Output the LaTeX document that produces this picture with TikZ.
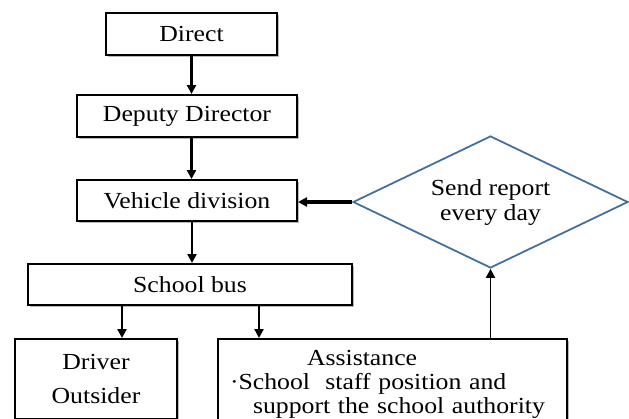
\documentclass[tikz,border=0pt]{standalone}
\usepackage{fontspec}
\setmainfont{Liberation Serif}[FakeStretch=1.12]
\usepackage{tikz}
\usetikzlibrary{arrows.meta,positioning,shapes.geometric,shadows}
\usepackage{xcolor}
\definecolor{reportblue}{HTML}{41719C}

\begin{document}
\begin{tikzpicture}[
x=1pt,y=-1pt,
font=\fontsize{23}{25}\selectfont,
box/.style={rectangle,draw,line width=2pt,fill=white,inner sep=0pt,minimum height=42pt,
  drop shadow={shadow xshift=2pt,shadow yshift=-2pt,opacity=0.45,fill=black!60}},
decide/.style={diamond,draw=reportblue,line width=1.8pt,align=center,inner sep=0pt,aspect=2.08},
arr/.style={-{Triangle[length=9pt,width=9pt]},line width=2.2pt}
]
\useasboundingbox (0,0) rectangle (629,418);
\node[box,minimum width=171pt] (direct) at (191.5,33.5) {Direct};
\node[box,minimum width=220pt] (deputy) at (187,116) {Deputy Director};
\node[box,minimum width=220pt,minimum height=41pt] (vehicle) at (187,200.5) {Vehicle division};
\node[box,minimum width=162pt,minimum height=80pt,align=center] (driver) at (96,379) {Driver\\[9pt]Outsider};
\node[box,minimum width=349pt,minimum height=90pt,text width=325pt,align=left,
  font=\fontsize{23}{24}\selectfont] (assist) at (392.5,384)
  {\hspace*{77pt}Assistance\\·School\ \ staff position and\\\hspace*{23pt}support the school authority};
\node[box,minimum width=324pt,minimum height=41pt] (bus) at (190,284.5) {School bus};
\node[decide,minimum width=275pt,minimum height=132pt] (report) at (490.5,202) {Send report\\every day};

\draw[arr] (direct.south) -- (direct.south |- deputy.north);
\draw[arr] (direct.south |- deputy.south) -- (direct.south |- vehicle.north);
\draw[arr] ([xshift=5pt]vehicle.south) -- ([xshift=5pt]vehicle.south |- bus.north);
\draw[arr] ([xshift=26pt]driver.north |- bus.south) -- ([xshift=26pt]driver.north);
\draw[arr] ([xshift=42pt]assist.north west |- bus.south) -- ([xshift=42pt]assist.north west);
\draw[arr,line width=1.8pt] (assist.north -| report.south) -- (report.south);
\draw[arr,line width=3.5pt] (report.west) -- (report.west -| vehicle.east);
\end{tikzpicture}
\end{document}
